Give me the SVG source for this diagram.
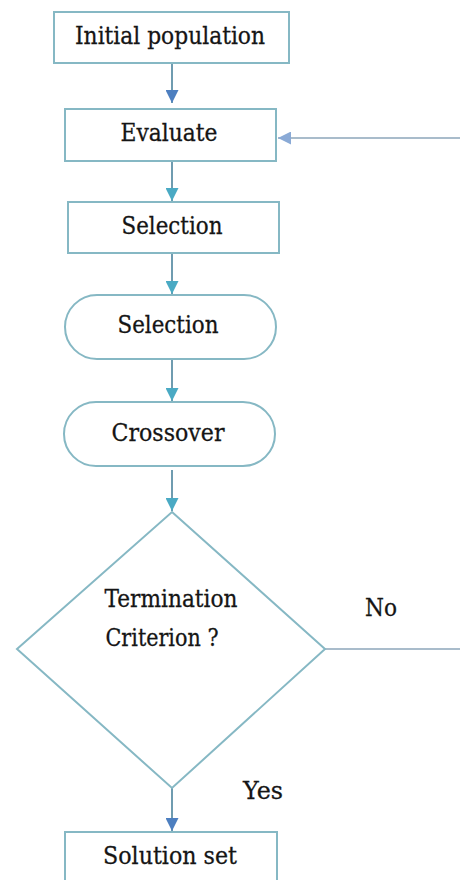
<svg xmlns="http://www.w3.org/2000/svg" width="460" height="880" viewBox="0 0 460 880">
<style>
.box{fill:#fff;stroke:#86b8c4;stroke-width:2}
.lbl{font-family:'DejaVu Serif','Liberation Serif',serif;font-size:25px;fill:#151515;stroke:#151515;stroke-width:0.3;text-anchor:middle}
.ln{fill:none;stroke:#6f9cb0;stroke-width:2}
.lnl{fill:none;stroke:#a9bccb;stroke-width:2}
</style>
<defs>
<marker id="hb" viewBox="0 0 10 10" refX="10" refY="5" markerWidth="6.5" markerHeight="6.5" markerUnits="strokeWidth" orient="auto"><path d="M0,0 L10,5 L0,10 z" fill="#4d7fc0"/></marker>
<marker id="ht" viewBox="0 0 10 10" refX="10" refY="5" markerWidth="6.5" markerHeight="6.5" markerUnits="strokeWidth" orient="auto"><path d="M0,0 L10,5 L0,10 z" fill="#4aaac4"/></marker>
<marker id="hl" viewBox="0 0 10 10" refX="10" refY="5" markerWidth="6.5" markerHeight="6.5" markerUnits="strokeWidth" orient="auto"><path d="M0,0 L10,5 L0,10 z" fill="#8aaad6"/></marker>
</defs>
<rect width="460" height="880" fill="#fff"/>
<g id="connectors">
<line class="ln" x1="172" y1="63" x2="172" y2="103" marker-end="url(#hb)"/>
<line class="ln" x1="172" y1="161" x2="172" y2="201" marker-end="url(#ht)"/>
<line class="ln" x1="172" y1="253" x2="172" y2="294" marker-end="url(#ht)"/>
<line class="ln" x1="172" y1="359" x2="172" y2="401" marker-end="url(#ht)"/>
<line class="ln" x1="172" y1="470" x2="172" y2="511" marker-end="url(#ht)"/>
<line class="ln" x1="172" y1="788" x2="172" y2="831" marker-end="url(#hb)"/>
<line class="lnl" x1="325" y1="649" x2="460" y2="649"/>
<line class="lnl" x1="460" y1="138" x2="278" y2="138" marker-end="url(#hl)"/>
<text class="lbl" x="381" y="616" textLength="32" lengthAdjust="spacingAndGlyphs">No</text>
<text class="lbl" x="263" y="799" textLength="40" lengthAdjust="spacingAndGlyphs">Yes</text>
</g>
<g id="initial">
<rect class="box" x="54" y="12" width="235" height="51"/>
<text class="lbl" x="170" y="44" textLength="190" lengthAdjust="spacingAndGlyphs">Initial population</text>
</g>
<g id="evaluate">
<rect class="box" x="65" y="109" width="211" height="52"/>
<text class="lbl" x="169" y="141" textLength="97" lengthAdjust="spacingAndGlyphs">Evaluate</text>
</g>
<g id="selection1">
<rect class="box" x="68" y="202" width="211" height="51"/>
<text class="lbl" x="172" y="234" textLength="101" lengthAdjust="spacingAndGlyphs">Selection</text>
</g>
<g id="selection2">
<rect class="box" x="65" y="295" width="211" height="64" rx="32"/>
<text class="lbl" x="168" y="333" textLength="101" lengthAdjust="spacingAndGlyphs">Selection</text>
</g>
<g id="crossover">
<rect class="box" x="64" y="402" width="211" height="64" rx="32"/>
<text class="lbl" x="168" y="441" textLength="113" lengthAdjust="spacingAndGlyphs">Crossover</text>
</g>
<g id="termination">
<polygon class="box" points="172,512 325,649 172,788 17,649"/>
<text class="lbl" x="171" y="607" textLength="133" lengthAdjust="spacingAndGlyphs">Termination</text>
<text class="lbl" x="162" y="646" textLength="113" lengthAdjust="spacingAndGlyphs">Criterion ?</text>
</g>
<g id="solution">
<rect class="box" x="65" y="832" width="212" height="60"/>
<text class="lbl" x="170" y="864" textLength="134" lengthAdjust="spacingAndGlyphs">Solution set</text>
</g>
</svg>
